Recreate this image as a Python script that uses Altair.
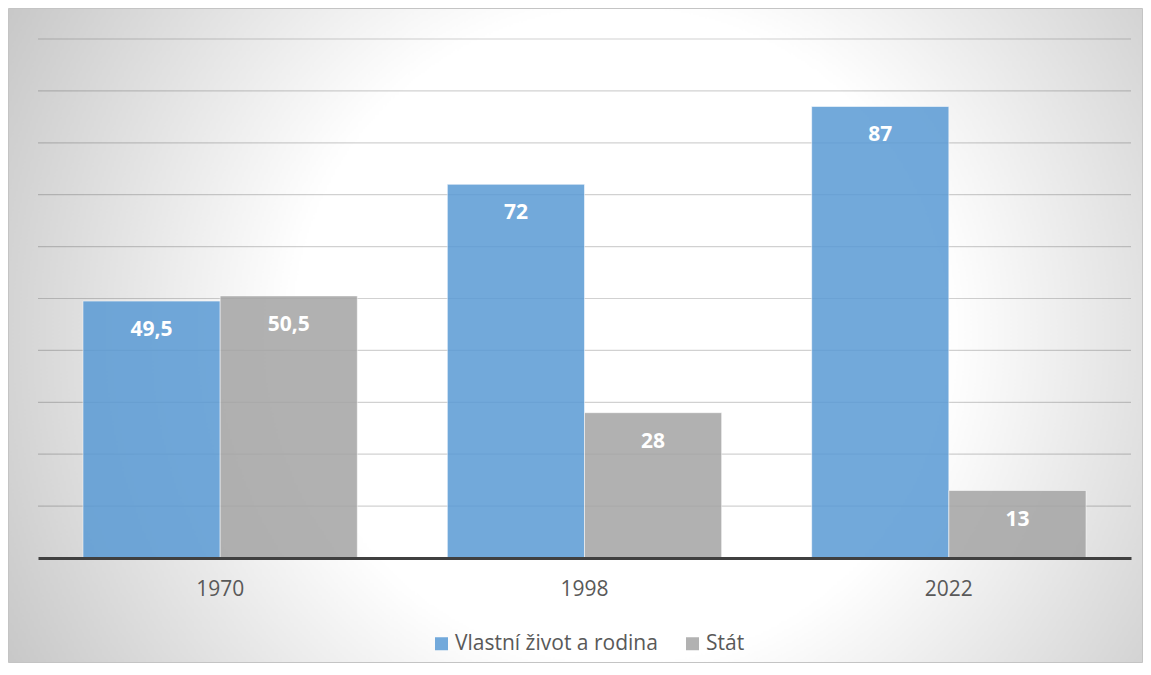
import altair as alt
import pandas as pd

years = ["1970", "1998", "2022"]
series = ["Vlastní život a rodina", "Stát"]
vlastni = [49.5, 72, 87]
stat = [50.5, 28, 13]
vlastni_labels = ["49,5", "72", "87"]
stat_labels = ["50,5", "28", "13"]
grid_values = [10, 20, 30, 40, 50, 60, 70, 80, 90, 100]

rows = []
for i, y in enumerate(years):
    rows.append({"rok": y, "serie": series[0], "hodnota": vlastni[i], "label": vlastni_labels[i]})
    rows.append({"rok": y, "serie": series[1], "hodnota": stat[i], "label": stat_labels[i]})
df = pd.DataFrame(rows)
grid_df = pd.DataFrame({"g": grid_values})

W, H = 1093, 519
PAD = {"left": 30, "top": 31, "right": 12, "bottom": 105}
FONT = "Open Sans"

bg = alt.Chart(pd.DataFrame({"a": [0]})).mark_rect(
    clip=False,
    fill={
        "gradient": "radial",
        "x1": 0.54, "y1": 0.5, "r1": 0,
        "x2": 0.54, "y2": 0.5, "r2": 0.64,
        "stops": [
            {"offset": 0, "color": "#ffffff"},
            {"offset": 0.45, "color": "#ffffff"},
            {"offset": 0.95, "color": "#c8c8c8"},
            {"offset": 1, "color": "#c4c4c4"},
        ],
    },
    stroke="#c4c4c4",
    strokeWidth=1,
).encode(
    x=alt.value(-PAD["left"] + 0.5),
    x2=alt.value(W + PAD["right"] - 0.5),
    y=alt.value(-PAD["top"] + 0.5),
    y2=alt.value(H + PAD["bottom"] - 0.5),
)

grid = alt.Chart(grid_df).mark_rule(color="#000000", opacity=0.18, strokeWidth=1.2).encode(
    y=alt.Y("g:Q", scale=alt.Scale(domain=[0, 100], nice=False), axis=None),
)

xenc = alt.X(
    "rok:N",
    scale=alt.Scale(domain=years, paddingInner=0.247, paddingOuter=0.1235),
    axis=alt.Axis(
        title=None,
        labelAngle=0,
        labelFont=FONT,
        labelFontSize=21,
        labelColor="#595959",
        labelPadding=20,
        ticks=False,
        domainColor="#404040",
        domainWidth=3,
        zindex=1,
    ),
)
yenc = alt.Y(
    "hodnota:Q",
    scale=alt.Scale(domain=[0, 100], nice=False),
    axis=None,
)
offs = alt.XOffset("serie:N", scale=alt.Scale(domain=series, paddingInner=0.0))

bars = alt.Chart(df).mark_bar(
    opacity=0.86, stroke="#ffffff", strokeOpacity=0.55, strokeWidth=1
).encode(
    x=xenc,
    xOffset=offs,
    y=yenc,
    color=alt.Color(
        "serie:N",
        scale=alt.Scale(domain=series, range=["#5b9bd5", "#a5a5a5"]),
        legend=alt.Legend(
            title=None,
            orient="none",
            direction="horizontal",
            legendX=393,
            legendY=594,
            symbolType="square",
            symbolSize=169,
            symbolOpacity=0.86,
            symbolStrokeWidth=0,
            labelFont=FONT,
            labelFontSize=21,
            labelColor="#595959",
            labelLimit=0,
            columnPadding=24,
            labelOffset=3,
        ),
    ),
)

texts = alt.Chart(df).mark_text(
    font=FONT, fontSize=21, fontWeight="bold", color="#ffffff", baseline="middle", dy=29
).encode(
    x=alt.X("rok:N"),
    xOffset=alt.XOffset("serie:N"),
    y=alt.Y("hodnota:Q"),
    text="label:N",
)

chart = alt.layer(bg, grid, bars, texts).properties(
    width=W,
    height=H,
    autosize=alt.AutoSizeParams(type="none"),
    padding=PAD,
).configure(background="#ffffff").configure_view(stroke=None)

chart.save("out.html", embed_options={"renderer": "svg", "actions": False})
